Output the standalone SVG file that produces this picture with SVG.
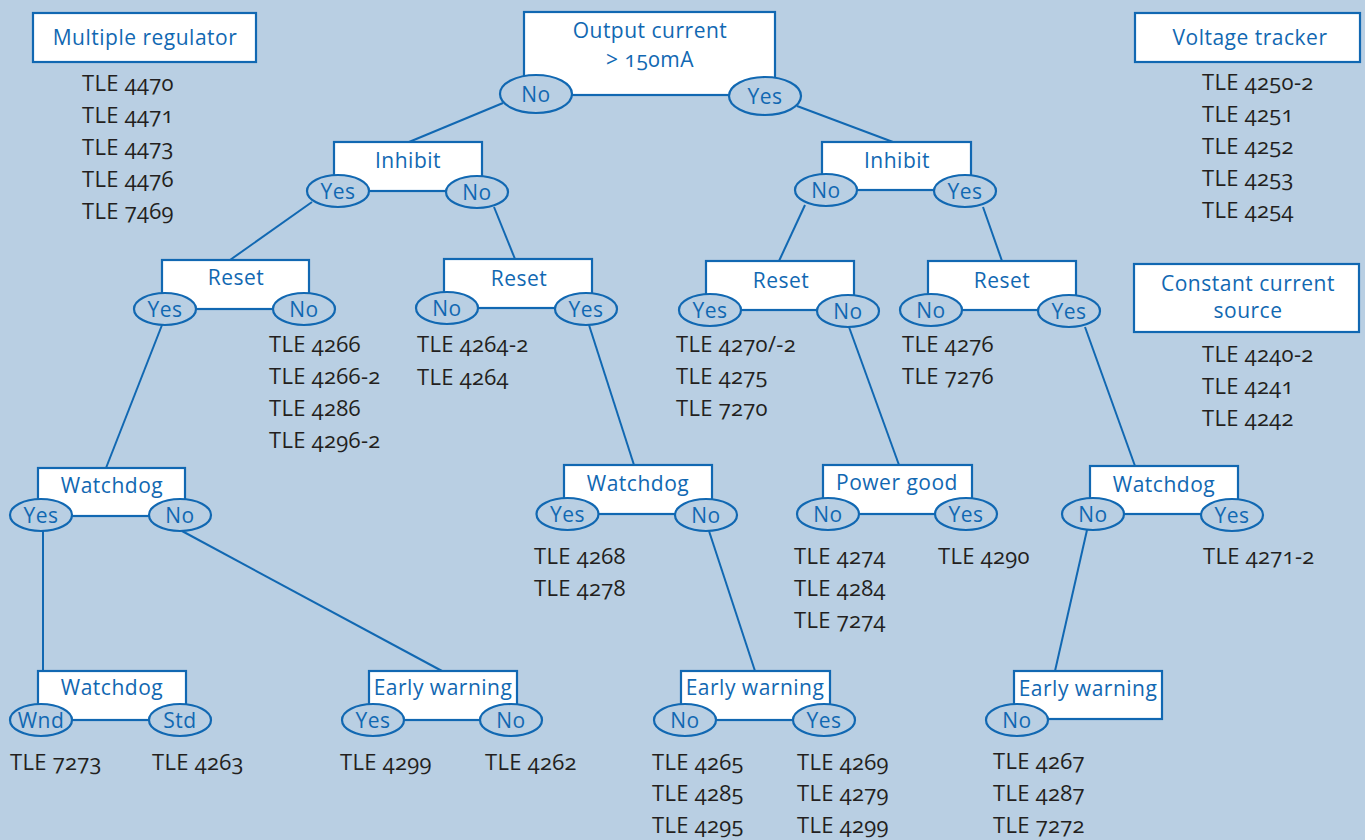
<svg xmlns="http://www.w3.org/2000/svg" width="1365" height="840" viewBox="0 0 1365 840">
<style>
.bg{fill:#b9cfe3}
.box{fill:#ffffff;stroke:#1168b2;stroke-width:2.2}
.el{fill:#b9cfe3;stroke:#1168b2;stroke-width:2.2}
.ln{stroke:#1168b2;stroke-width:2;fill:none}
.bt{font-family:"Open Sans","Liberation Sans",sans-serif;font-size:21px;letter-spacing:0.5px;fill:#1168b2;text-anchor:middle;font-variant-numeric:oldstyle-nums}
.pt{font-family:"Open Sans","Liberation Sans",sans-serif;font-size:22px;letter-spacing:0.3px;fill:#231f20;font-variant-numeric:oldstyle-nums}
</style>
<rect class="bg" x="0" y="0" width="1365" height="840"/>
<g id="connectors">
<line class="ln" x1="503" y1="103" x2="409" y2="142"/>
<line class="ln" x1="797" y1="106" x2="893" y2="142"/>
<line class="ln" x1="312" y1="202" x2="230" y2="260"/>
<line class="ln" x1="494" y1="207" x2="515" y2="259"/>
<line class="ln" x1="805" y1="205" x2="779" y2="261"/>
<line class="ln" x1="983" y1="207" x2="1002" y2="261"/>
<line class="ln" x1="162" y1="325" x2="106" y2="468"/>
<line class="ln" x1="589" y1="325" x2="634" y2="465"/>
<line class="ln" x1="849" y1="327" x2="899" y2="465"/>
<line class="ln" x1="1085" y1="327" x2="1135" y2="466"/>
<line class="ln" x1="43" y1="531" x2="43" y2="671"/>
<line class="ln" x1="182" y1="531" x2="442" y2="671"/>
<line class="ln" x1="709" y1="531" x2="755" y2="671"/>
<line class="ln" x1="1087" y1="530" x2="1055" y2="671"/>
</g>
<g id="multiple-regulator">
<rect class="box" x="33" y="13" width="223" height="49"/>
<text class="bt" x="145" y="45">Multiple regulator</text>
</g>
<g id="list-multiple" class="pt">
<text x="82" y="91">TLE 4470</text>
<text x="82" y="123">TLE 4471</text>
<text x="82" y="155">TLE 4473</text>
<text x="82" y="187">TLE 4476</text>
<text x="82" y="219">TLE 7469</text>
</g>
<g id="voltage-tracker">
<rect class="box" x="1135" y="13" width="225" height="49"/>
<text class="bt" x="1250" y="45">Voltage tracker</text>
</g>
<g id="list-voltage" class="pt">
<text x="1202" y="90">TLE 4250-2</text>
<text x="1202" y="122">TLE 4251</text>
<text x="1202" y="154">TLE 4252</text>
<text x="1202" y="186">TLE 4253</text>
<text x="1202" y="218">TLE 4254</text>
</g>
<g id="constant-current">
<rect class="box" x="1134" y="264" width="225" height="68"/>
<text class="bt" x="1248" y="291">Constant current</text>
<text class="bt" x="1248" y="318">source</text>
</g>
<g id="list-constant" class="pt">
<text x="1202" y="362">TLE 4240-2</text>
<text x="1202" y="394">TLE 4241</text>
<text x="1202" y="426">TLE 4242</text>
</g>
<g id="output-current">
<rect class="box" x="524" y="12" width="251" height="83"/>
<text class="bt" x="650" y="38">Output current</text>
<text class="bt" x="650" y="67">&gt; 150mA</text>
<ellipse class="el" cx="536" cy="94" rx="36" ry="19"/>
<text class="bt" x="536" y="102">No</text>
<ellipse class="el" cx="765" cy="96" rx="36" ry="19"/>
<text class="bt" x="765" y="104">Yes</text>
</g>
<g id="inhibit-left">
<rect class="box" x="334" y="142" width="148" height="49"/>
<text class="bt" x="408" y="168">Inhibit</text>
<ellipse class="el" cx="338" cy="191" rx="31" ry="16"/>
<text class="bt" x="338" y="198.5">Yes</text>
<ellipse class="el" cx="477" cy="192" rx="31" ry="16"/>
<text class="bt" x="477" y="199.5">No</text>
</g>
<g id="inhibit-right">
<rect class="box" x="822" y="142" width="149" height="48"/>
<text class="bt" x="897" y="168">Inhibit</text>
<ellipse class="el" cx="826" cy="190" rx="31" ry="16"/>
<text class="bt" x="826" y="197.5">No</text>
<ellipse class="el" cx="965" cy="191" rx="31" ry="16"/>
<text class="bt" x="965" y="198.5">Yes</text>
</g>
<g id="reset-1">
<rect class="box" x="162" y="260" width="147" height="49"/>
<text class="bt" x="236" y="285">Reset</text>
<ellipse class="el" cx="165" cy="309" rx="31" ry="16"/>
<text class="bt" x="165" y="316.5">Yes</text>
<ellipse class="el" cx="304" cy="309" rx="31" ry="16"/>
<text class="bt" x="304" y="316.5">No</text>
</g>
<g id="list-reset-1" class="pt">
<text x="269" y="352">TLE 4266</text>
<text x="269" y="384">TLE 4266-2</text>
<text x="269" y="416">TLE 4286</text>
<text x="269" y="448">TLE 4296-2</text>
</g>
<g id="reset-2">
<rect class="box" x="444" y="259" width="148" height="49"/>
<text class="bt" x="519" y="286">Reset</text>
<ellipse class="el" cx="447" cy="308" rx="31" ry="16"/>
<text class="bt" x="447" y="315.5">No</text>
<ellipse class="el" cx="586" cy="309" rx="31" ry="16"/>
<text class="bt" x="586" y="316.5">Yes</text>
</g>
<g id="list-reset-2" class="pt">
<text x="417" y="352">TLE 4264-2</text>
<text x="417" y="385">TLE 4264</text>
</g>
<g id="reset-3">
<rect class="box" x="706" y="261" width="148" height="49"/>
<text class="bt" x="781" y="288">Reset</text>
<ellipse class="el" cx="710" cy="310" rx="31" ry="16"/>
<text class="bt" x="710" y="317.5">Yes</text>
<ellipse class="el" cx="848" cy="311" rx="31" ry="16"/>
<text class="bt" x="848" y="318.5">No</text>
</g>
<g id="list-reset-3" class="pt">
<text x="676" y="352">TLE 4270/-2</text>
<text x="676" y="384">TLE 4275</text>
<text x="676" y="416">TLE 7270</text>
</g>
<g id="reset-4">
<rect class="box" x="928" y="261" width="148" height="49"/>
<text class="bt" x="1002" y="288">Reset</text>
<ellipse class="el" cx="931" cy="310" rx="31" ry="16"/>
<text class="bt" x="931" y="317.5">No</text>
<ellipse class="el" cx="1069" cy="311" rx="31" ry="16"/>
<text class="bt" x="1069" y="318.5">Yes</text>
</g>
<g id="list-reset-4" class="pt">
<text x="902" y="352">TLE 4276</text>
<text x="902" y="384">TLE 7276</text>
</g>
<g id="watchdog-left">
<rect class="box" x="38" y="468" width="147" height="48"/>
<text class="bt" x="112" y="493">Watchdog</text>
<ellipse class="el" cx="41" cy="515" rx="31" ry="16"/>
<text class="bt" x="41" y="522.5">Yes</text>
<ellipse class="el" cx="180" cy="515" rx="31" ry="16"/>
<text class="bt" x="180" y="522.5">No</text>
</g>
<g id="watchdog-mid">
<rect class="box" x="564" y="465" width="148" height="49"/>
<text class="bt" x="638" y="491">Watchdog</text>
<ellipse class="el" cx="567.5" cy="514" rx="31" ry="16"/>
<text class="bt" x="567.5" y="521.5">Yes</text>
<ellipse class="el" cx="706" cy="515" rx="31" ry="16"/>
<text class="bt" x="706" y="522.5">No</text>
</g>
<g id="list-watchdog-mid" class="pt">
<text x="534" y="564">TLE 4268</text>
<text x="534" y="596">TLE 4278</text>
</g>
<g id="power-good">
<rect class="box" x="823" y="465" width="149" height="49"/>
<text class="bt" x="897" y="490">Power good</text>
<ellipse class="el" cx="828" cy="514" rx="31" ry="16"/>
<text class="bt" x="828" y="521.5">No</text>
<ellipse class="el" cx="966" cy="514" rx="31" ry="16"/>
<text class="bt" x="966" y="521.5">Yes</text>
</g>
<g id="list-power-good" class="pt">
<text x="794" y="564">TLE 4274</text>
<text x="794" y="596">TLE 4284</text>
<text x="794" y="628">TLE 7274</text>
<text x="938" y="564">TLE 4290</text>
</g>
<g id="watchdog-right">
<rect class="box" x="1090" y="466" width="148" height="48"/>
<text class="bt" x="1164" y="492">Watchdog</text>
<ellipse class="el" cx="1093" cy="514" rx="31" ry="16"/>
<text class="bt" x="1093" y="521.5">No</text>
<ellipse class="el" cx="1232" cy="515" rx="31" ry="16"/>
<text class="bt" x="1232" y="522.5">Yes</text>
</g>
<g id="list-watchdog-right" class="pt">
<text x="1203" y="564">TLE 4271-2</text>
</g>
<g id="watchdog-bottom">
<rect class="box" x="38" y="671" width="148" height="49"/>
<text class="bt" x="112" y="695">Watchdog</text>
<ellipse class="el" cx="41" cy="720" rx="31" ry="16"/>
<text class="bt" x="41" y="727.5">Wnd</text>
<ellipse class="el" cx="180" cy="720" rx="31" ry="16"/>
<text class="bt" x="180" y="727.5">Std</text>
</g>
<g id="list-watchdog-bottom" class="pt">
<text x="10" y="770">TLE 7273</text>
<text x="152" y="770">TLE 4263</text>
</g>
<g id="early-warning-left">
<rect class="box" x="369" y="671" width="148" height="49"/>
<text class="bt" x="443" y="695">Early warning</text>
<ellipse class="el" cx="373" cy="720" rx="31" ry="16"/>
<text class="bt" x="373" y="727.5">Yes</text>
<ellipse class="el" cx="511" cy="720" rx="31" ry="16"/>
<text class="bt" x="511" y="727.5">No</text>
</g>
<g id="list-early-warning-left" class="pt">
<text x="340" y="770">TLE 4299</text>
<text x="485" y="770">TLE 4262</text>
</g>
<g id="early-warning-mid">
<rect class="box" x="681" y="671" width="149" height="49"/>
<text class="bt" x="755" y="695">Early warning</text>
<ellipse class="el" cx="685" cy="720" rx="31" ry="16"/>
<text class="bt" x="685" y="727.5">No</text>
<ellipse class="el" cx="824" cy="720" rx="31" ry="16"/>
<text class="bt" x="824" y="727.5">Yes</text>
</g>
<g id="list-early-warning-mid" class="pt">
<text x="652" y="770">TLE 4265</text>
<text x="652" y="801">TLE 4285</text>
<text x="652" y="833">TLE 4295</text>
<text x="797" y="770">TLE 4269</text>
<text x="797" y="801">TLE 4279</text>
<text x="797" y="833">TLE 4299</text>
</g>
<g id="early-warning-right">
<rect class="box" x="1014" y="671" width="148" height="48"/>
<text class="bt" x="1088" y="696">Early warning</text>
<ellipse class="el" cx="1017" cy="720" rx="31" ry="16"/>
<text class="bt" x="1017" y="727.5">No</text>
</g>
<g id="list-early-warning-right" class="pt">
<text x="993" y="769">TLE 4267</text>
<text x="993" y="801">TLE 4287</text>
<text x="993" y="833">TLE 7272</text>
</g>
</svg>
